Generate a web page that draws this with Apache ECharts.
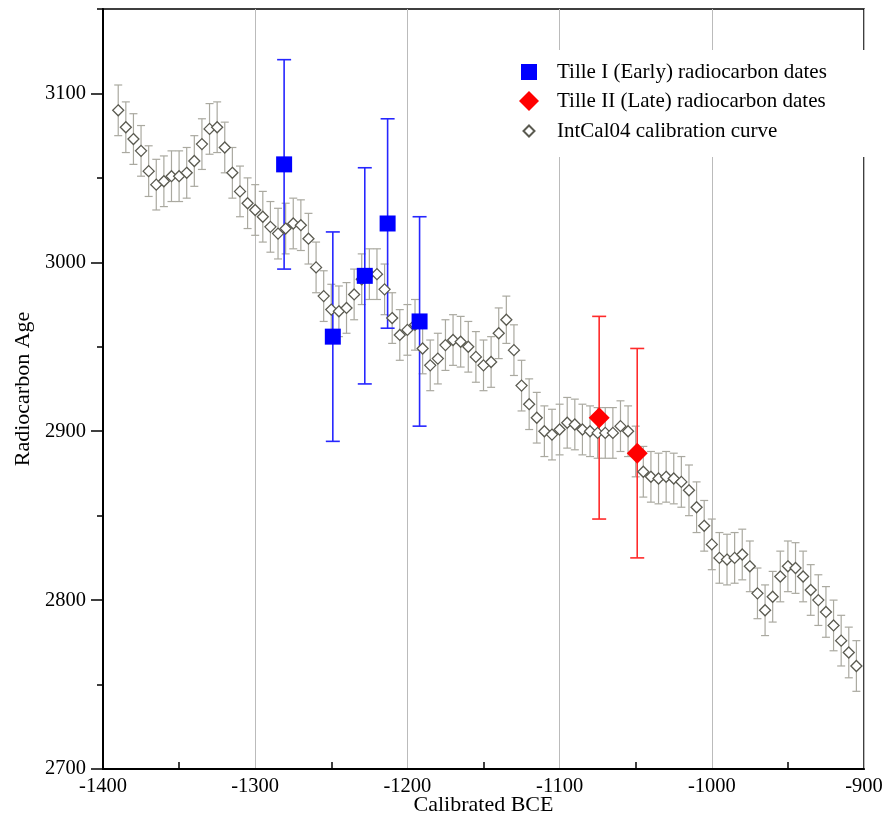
<!DOCTYPE html>
<html>
<head>
<meta charset="utf-8">
<script src="https://cdn.jsdelivr.net/npm/echarts@6/dist/echarts.min.js"></script>
<style>
  html, body { margin: 0; padding: 0; background: #fff; }
  #chart { width: 885px; height: 817px; }
</style>
</head>
<body>
<div id="chart"></div>
<script>
// IntCal04 calibration curve (calendar year BCE, radiocarbon age, 1 sigma)
var calYears = [
  -1390, -1385, -1380, -1375, -1370, -1365, -1360, -1355, -1350, -1345,
  -1340, -1335, -1330, -1325, -1320, -1315, -1310, -1305, -1300, -1295,
  -1290, -1285, -1280, -1275, -1270, -1265, -1260, -1255, -1250, -1245,
  -1240, -1235, -1230, -1225, -1220, -1215, -1210, -1205, -1200, -1195,
  -1190, -1185, -1180, -1175, -1170, -1165, -1160, -1155, -1150, -1145,
  -1140, -1135, -1130, -1125, -1120, -1115, -1110, -1105, -1100, -1095,
  -1090, -1085, -1080, -1075, -1070, -1065, -1060, -1055, -1050, -1045,
  -1040, -1035, -1030, -1025, -1020, -1015, -1010, -1005, -1000, -995,
  -990, -985, -980, -975, -970, -965, -960, -955, -950, -945,
  -940, -935, -930, -925, -920, -915, -910, -905
];
var calAges = [
  3090, 3080, 3073, 3066, 3054, 3046, 3048, 3051, 3051, 3053,
  3060, 3070, 3079, 3080, 3068, 3053, 3042, 3035, 3031, 3027,
  3021, 3017, 3020, 3023, 3022, 3014, 2997, 2980, 2972, 2971,
  2973, 2981, 2990, 2993, 2993, 2984, 2967, 2957, 2960, 2963,
  2949, 2939, 2943, 2951, 2954, 2953, 2950, 2944, 2939, 2941,
  2958, 2966, 2948, 2927, 2916, 2908, 2900, 2898, 2901, 2905,
  2904, 2901, 2900, 2899, 2899, 2899, 2903, 2900, 2888, 2876,
  2873, 2872, 2873, 2872, 2870, 2865, 2855, 2844, 2833, 2825,
  2824, 2825, 2827, 2820, 2804, 2794, 2802, 2814, 2820, 2819,
  2814, 2806, 2800, 2793, 2785, 2776, 2769, 2761
];
var calErr = [
  15, 15, 15, 15, 15, 15, 15, 15, 15, 15,
  15, 15, 15, 15, 15, 15, 15, 15, 15, 15,
  15, 15, 15, 15, 15, 15, 15, 15, 15, 15,
  15, 15, 15, 15, 15, 15, 15, 15, 15, 15,
  15, 15, 15, 15, 15, 15, 15, 15, 15, 15,
  15, 14, 15, 15, 15, 15, 15, 15, 15, 15,
  15, 15, 15, 15, 15, 15, 15, 15, 15, 15,
  15, 15, 15, 15, 15, 15, 15, 15, 15, 15,
  15, 15, 15, 15, 15, 15, 15, 15, 15, 15,
  15, 15, 15, 15, 15, 15, 15, 15
];

// Tille I (Early) radiocarbon dates
var earlyYears = [-1281, -1249, -1228, -1213, -1192];
var earlyAges  = [3058, 2956, 2992, 3023, 2965];
var earlyErr   = [62, 62, 64, 62, 62];

// Tille II (Late) radiocarbon dates
var lateYears = [-1074, -1049];
var lateAges  = [2908, 2887];
var lateErr   = [60, 62];

var xTicks = [-1400, -1300, -1200, -1100, -1000, -900];
var yTicks = [2700, 2800, 2900, 3000, 3100];
var yMinorTicks = [2750, 2850, 2950, 3050, 3150];

var names = [
  'Tille I (Early) radiocarbon dates',
  'Tille II (Late) radiocarbon dates',
  'IntCal04 calibration curve'
];

function zip3(a, b, c) {
  var out = [];
  for (var i = 0; i < a.length; i++) out.push([a[i], b[i], c[i]]);
  return out;
}

// vertical error bar with caps
function errorBars(capHalf, color, width) {
  return function (params, api) {
    var x = api.value(0), y = api.value(1), e = api.value(2);
    var hi = api.coord([x, y + e]);
    var lo = api.coord([x, y - e]);
    var st = { stroke: color, lineWidth: width };
    return {
      type: 'group',
      children: [
        { type: 'line', shape: { x1: hi[0], y1: hi[1], x2: lo[0], y2: lo[1] }, style: st },
        { type: 'line', shape: { x1: hi[0] - capHalf, y1: hi[1], x2: hi[0] + capHalf, y2: hi[1] }, style: st },
        { type: 'line', shape: { x1: lo[0] - capHalf, y1: lo[1], x2: lo[0] + capHalf, y2: lo[1] }, style: st }
      ]
    };
  };
}

function plain(v) { return String(v); }

var font = 'Liberation Serif';
var chart = echarts.init(document.getElementById('chart'));

var option = {
  animation: false,
  backgroundColor: '#fff',
  textStyle: { fontFamily: font },
  grid: {
    left: 103, right: 21, top: 9, bottom: 48,
    outerBoundsMode: 'none',
    containLabel: false,
    show: true, borderColor: '#000', borderWidth: 1.5
  },
  legend: {
    orient: 'vertical',
    left: 507, top: 50,
    padding: [11, 40, 14, 10],
    backgroundColor: '#fff',
    itemWidth: 34, itemHeight: 22, itemGap: 7,
    textStyle: { fontFamily: font, fontSize: 21, color: '#000' },
    data: [
      { name: names[0], icon: 'path://M0,0M34,22M3,3L19,3L19,19L3,19Z' },
      { name: names[1], icon: 'path://M0,0M34,22M11,1L21,11L11,21L1,11Z' },
      { name: names[2], icon: 'path://M0,0M34,22M11,5.5L16.5,11L11,16.5L5.5,11Z' }
    ]
  },
  xAxis: {
    type: 'value',
    min: -1400, max: -900, interval: 100,
    name: 'Calibrated BCE',
    nameLocation: 'middle',
    nameGap: 25,
    nameMoveOverlap: false,
    nameTextStyle: { fontFamily: font, fontSize: 22, color: '#000' },
    axisLine: { lineStyle: { color: '#000', width: 2 } },
    axisTick: { show: false, inside: true },
    minorTick: { show: true, splitNumber: 2, length: 7, lineStyle: { color: '#000', width: 1.5 } },
    axisLabel: {
      fontFamily: font, fontSize: 20.5, color: '#000', margin: 7,
      customValues: xTicks, formatter: plain
    },
    splitLine: { show: true, lineStyle: { color: '#bbbbbb', width: 1 } }
  },
  yAxis: [{
    type: 'value',
    position: 'left',
    min: 2700, max: 3150, interval: 100,
    name: 'Radiocarbon Age',
    nameLocation: 'middle',
    nameGap: 66,
    nameTextStyle: { fontFamily: font, fontSize: 22, color: '#000' },
    axisLine: { lineStyle: { color: '#000', width: 2 } },
    axisTick: { length: 12, lineStyle: { color: '#000', width: 1.5 }, customValues: yTicks },
    axisLabel: {
      fontFamily: font, fontSize: 20.5, color: '#000', margin: 17,
      customValues: yTicks, formatter: plain
    },
    splitLine: { show: false }
  }, {
    type: 'value',
    position: 'left',
    min: 2700, max: 3150, interval: 50,
    axisLine: { show: false },
    axisTick: { length: 6, lineStyle: { color: '#000', width: 1.5 }, customValues: yMinorTicks },
    axisLabel: { show: false },
    splitLine: { show: false }
  }],
  series: [
    {
      type: 'custom',
      name: 'calErr',
      renderItem: errorBars(4, '#aaa9a0', 1.2),
      encode: { x: 0, y: 1 },
      data: zip3(calYears, calAges, calErr)
    },
    {
      type: 'scatter',
      name: names[2],
      symbol: 'diamond',
      symbolSize: 11,
      itemStyle: { color: '#fff', borderColor: '#5a5a50', borderWidth: 1.3, opacity: 1 },
      data: zip3(calYears, calAges, calErr)
    },
    {
      type: 'custom',
      name: 'earlyErr',
      renderItem: errorBars(7, '#2626ff', 1.6),
      encode: { x: 0, y: 1 },
      data: zip3(earlyYears, earlyAges, earlyErr)
    },
    {
      type: 'scatter',
      name: names[0],
      symbol: 'rect',
      symbolSize: 16,
      itemStyle: { color: '#0000ff', opacity: 1 },
      data: zip3(earlyYears, earlyAges, earlyErr)
    },
    {
      type: 'custom',
      name: 'lateErr',
      renderItem: errorBars(7, '#ff2a2a', 1.6),
      encode: { x: 0, y: 1 },
      data: zip3(lateYears, lateAges, lateErr)
    },
    {
      type: 'scatter',
      name: names[1],
      symbol: 'diamond',
      symbolSize: 21,
      itemStyle: { color: '#ff0000', opacity: 1 },
      data: zip3(lateYears, lateAges, lateErr)
    }
  ]
};

chart.setOption(option);
</script>
</body>
</html>
